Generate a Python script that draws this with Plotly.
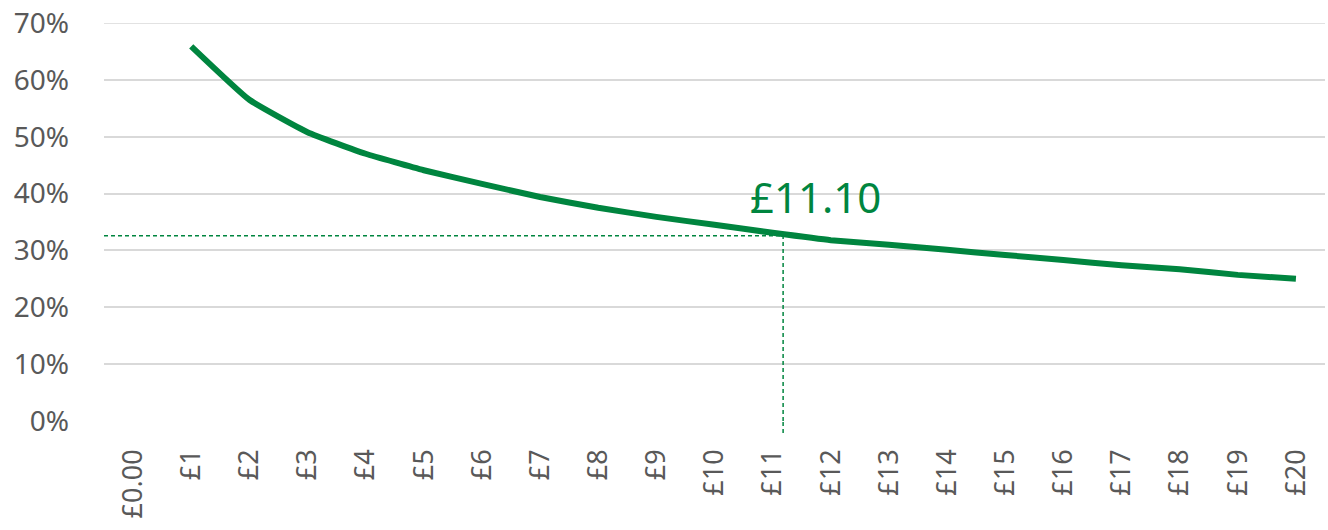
import plotly.graph_objects as go

categories = ["£0.00"] + [f"£{i}" for i in range(1, 21)]
x_pos = list(range(1, 21))
rate_pct = [65.9, 56.5, 50.8, 47.0, 44.1, 41.7, 39.4, 37.5, 35.9, 34.5,
            33.1, 31.8, 31.0, 30.1, 29.2, 28.3, 27.4, 26.7, 25.7, 25.0]
marker_x = 11.18
marker_y = 32.6
marker_label = "£11.10"
y_ticks = [0, 10, 20, 30, 40, 50, 60, 70]

GREEN = "#00853F"
GREY = "#595959"
GRID = "#D9D9D9"
FONT = "Noto Sans"
DASH = dict(color=GREEN, width=1.5, dash="4px,3px")

fig = go.Figure()
fig.add_trace(go.Scatter(
    x=x_pos, y=rate_pct, mode="lines",
    line=dict(color=GREEN, width=6, shape="spline", smoothing=0.4),
    hoverinfo="skip", showlegend=False,
))

# top gridline (plotly omits the gridline lying on the plot's top edge)
fig.add_shape(type="line", xref="paper", yref="y", x0=0, x1=1, y0=y_ticks[-1], y1=y_ticks[-1],
              line=dict(color=GRID, width=1.5), layer="below")

# dashed guide lines
fig.add_shape(type="line", xref="x", yref="y", x0=-0.5, x1=marker_x, y0=marker_y, y1=marker_y, line=DASH)
fig.add_shape(type="line", xref="x", yref="paper", x0=marker_x, x1=marker_x, y0=-0.03, y1=0, line=DASH)
fig.add_shape(type="line", xref="x", yref="y", x0=marker_x, x1=marker_x, y0=0, y1=marker_y, line=DASH)

fig.add_annotation(x=marker_x, y=marker_y, xref="x", yref="y", text=marker_label,
                   showarrow=False, yanchor="bottom", xanchor="center", xshift=32, yshift=9,
                   font=dict(family=FONT, size=42, color=GREEN))

fig.update_layout(
    width=1328, height=530,
    margin=dict(l=104, r=3, t=23, b=109),
    plot_bgcolor="white", paper_bgcolor="white",
    font=dict(family=FONT, size=27, color=GREY),
)
fig.update_xaxes(
    range=[-0.5, 20.5], tickmode="array", tickvals=list(range(21)), ticktext=categories,
    tickangle=-90, showgrid=False, zeroline=False, showline=False, ticks="", automargin=False,
    ticklabelstandoff=22, ticklabeloverflow="allow",
    tickfont=dict(family=FONT, size=27, color=GREY),
)
fig.update_yaxes(
    range=[0, 70], tickmode="array", tickvals=y_ticks, ticktext=[f"{v}%" for v in y_ticks],
    showgrid=True, gridcolor=GRID, gridwidth=1.5, zeroline=False, showline=False,
    ticks="", automargin=False, ticklabelstandoff=34, ticklabeloverflow="allow",
    tickfont=dict(family=FONT, size=28, color=GREY),
)
fig.write_html("out.html", config={"displayModeBar": False},
               post_script="document.body.style.margin='0';")
